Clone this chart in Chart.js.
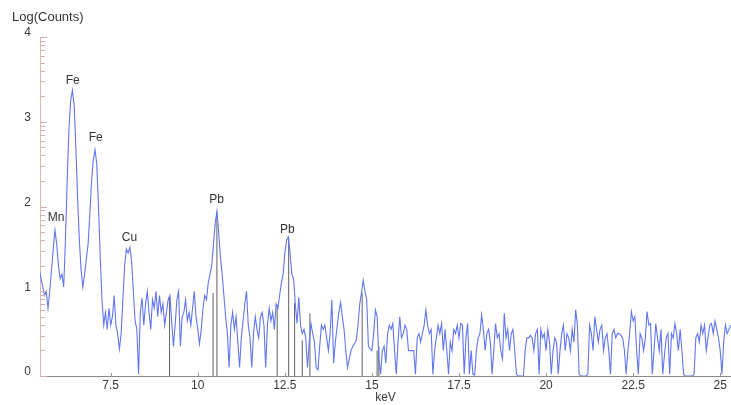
<!DOCTYPE html>
<html>
<head>
<meta charset="utf-8">
<script src="https://cdn.jsdelivr.net/npm/chart.js@4/dist/chart.umd.min.js"></script>
<style>
  html, body { margin: 0; padding: 0; background: #fff; }
  #spectrum { display: block; }
</style>
</head>
<body>
<canvas id="spectrum" width="731" height="405"></canvas>
<script>
// channel calibration of the spectrum
var channelStart = 5.45;
var channelStep = 0.05;

// log(counts) per channel, 10 channels (0.5 keV) per row
var logCounts = [
  1.25, 1.15, 1.05, 0.95, 1.0, 0.8, 1.0, 1.25, 1.5, 1.72,      // 5.45
  1.55, 1.3, 1.15, 1.2, 1.05, 1.6, 2.3, 2.9, 3.25, 3.37,       // 5.95
  3.2, 2.7, 2.1, 1.6, 1.25, 1.05, 1.2, 1.38, 1.55, 1.9,        // 6.45
  2.3, 2.55, 2.67, 2.5, 2.0, 1.4, 0.9, 0.6, 0.75, 0.55,        // 6.95
  0.8, 0.6, 0.7, 0.95, 0.6, 0.5, 0.32, 0.5, 0.9, 1.3,          // 7.45
  1.5, 1.45, 1.52, 1.35, 1.0, 0.65, 0.55, 0.02, 0.75, 0.92,    // 7.95
  0.6, 0.85, 1.0, 0.75, 0.55, 0.9, 0.8, 1.0, 0.7, 0.95,        // 8.45
  0.75, 0.85, 0.6, 0.75, 0.9, 0.95, 0.65, 0.35, 0.6, 0.9,      // 8.95
  1.0, 0.35, 0.7, 0.75, 0.9, 0.65, 0.75, 0.6, 0.8, 1.0,        // 9.45
  0.7, 0.55, 0.38, 0.55, 0.8, 0.95, 0.9, 1.1, 1.2, 1.3,        // 9.95
  1.55, 1.8, 1.94, 1.7, 1.4, 1.2, 0.95, 0.7, 0.5, 0.1,         // 10.45
  0.6, 0.75, 0.55, 0.7, 0.4, 0.1, 0.45, 0.65, 0.85, 1.0,       // 10.95
  0.6, 0.45, 0.1, 0.5, 0.7, 0.55, 0.45, 0.7, 0.75, 0.6,        // 11.45
  0.1, 0.6, 0.8, 0.65, 0.75, 0.55, 0.85, 0.8, 0.95, 1.1,       // 11.95
  1.2, 1.45, 1.6, 1.64, 1.45, 1.2, 1.15, 0.85, 0.62, 0.93,     // 12.45
  0.6, 0.5, 0.55, 0.45, 0.1, 0.4, 0.62, 0.5, 0.4, 0.1,         // 12.95
  0.07, 0.35, 0.6, 0.55, 0.6, 0.45, 0.3, 0.5, 0.9, 0.15,       // 13.45
  0.4, 0.58, 0.75, 0.87, 0.7, 0.55, 0.3, 0.1, 0.2, 0.3,        // 13.95
  0.35, 0.38, 0.42, 0.6, 0.85, 0.98, 1.13, 1.0, 0.9, 0.35,     // 14.45
  0.32, 0.3, 0.5, 0.78, 0.7, 0.2, 0.02, 0.3, 0.35, 0.15,       // 14.95
  0.5, 0.6, 0.55, 0.62, 0.3, 0.02, 0.4, 0.7, 0.45, 0.5,        // 15.45
  0.6, 0.55, 0.3, 0.3, 0.3, 0.3, 0.02, 0.45, 0.5, 0.4,         // 15.95
  0.5, 0.6, 0.78, 0.6, 0.5, 0.55, 0.02, 0.3, 0.45, 0.6,        // 16.45
  0.5, 0.62, 0.3, 0.55, 0.3, 0.02, 0.4, 0.3, 0.55, 0.5,        // 16.95
  0.6, 0.45, 0.62, 0.6, 0.02, 0.45, 0.62, 0.02, 0.3, 0.02,     // 17.45
  0.01, 0.3, 0.45, 0.5, 0.72, 0.55, 0.3, 0.5, 0.55, 0.4,       // 17.95
  0.02, 0.3, 0.62, 0.45, 0.5, 0.3, 0.2, 0.74, 0.45, 0.55,      // 18.45
  0.3, 0.5, 0.55, 0.3, 0.02, 0, 0, 0, 0, 0.3,                  // 18.95
  0.45, 0.45, 0.48, 0.45, 0.3, 0.5, 0.55, 0.02, 0.55, 0.45,    // 19.45
  0.5, 0.3, 0.55, 0.4, 0.02, 0.3, 0.45, 0.4, 0.02, 0.3,        // 19.95
  0.5, 0.6, 0.3, 0.5, 0.45, 0.3, 0.55, 0.4, 0.78, 0.6,         // 20.45
  0.02, 0, 0, 0, 0, 0.02, 0.6, 0.5, 0.3, 0.7,                  // 20.95
  0.55, 0.4, 0.55, 0.6, 0.3, 0.45, 0.5, 0.3, 0.02, 0.5,        // 21.45
  0.55, 0.45, 0.5, 0.5, 0.48, 0.45, 0.3, 0.02, 0.3, 0.5,       // 21.95
  0.76, 0.65, 0.7, 0.3, 0.02, 0.5, 0.45, 0.3, 0.45, 0.76,      // 22.45
  0.6, 0.62, 0.02, 0.3, 0.62, 0.45, 0.3, 0.55, 0.02, 0.25,     // 22.95
  0.45, 0.5, 0.02, 0.5, 0.45, 0.62, 0.5, 0.3, 0.55, 0.3,       // 23.45
  0.02, 0, 0, 0, 0, 0, 0.02, 0.45, 0.5, 0.4,                   // 23.95
  0.6, 0.5, 0.6, 0.3, 0.45, 0.6, 0.62, 0.5, 0.65, 0.55,        // 24.45
  0.45, 0.3, 0.02, 0.4, 0.6, 0.5, 0.55, 0.6                    // 24.95
];

// element line markers (keV, height in log counts)
var markerKeV = [9.19, 10.44, 10.55, 12.28, 12.61, 12.78, 13.0, 13.22, 14.72, 15.15, 15.2];
var markerTop = [0.93, 0.98, 1.94, 0.84, 1.64, 0.86, 0.42, 0.74, 0.98, 0.3, 0.35];

// peak labels
var peakNames = ['Mn', 'Fe', 'Fe', 'Cu', 'Pb', 'Pb'];
var peakKeV = [5.93, 6.41, 7.07, 8.04, 10.54, 12.57];
var peakLabelY = [1.87, 3.49, 2.81, 1.63, 2.08, 1.73];

var yTicks = [0, 1, 2, 3, 4];
var xTicks = [7.5, 10, 12.5, 15, 17.5, 20, 22.5, 25];

var FONT = '"Liberation Sans", Arial, sans-serif';

var spectrumPoints = [];
for (var i = 0; i < logCounts.length; i++) {
  spectrumPoints.push({x: +(channelStart + i * channelStep).toFixed(2), y: logCounts[i]});
}

var markerPoints = [];
for (var j = 0; j < markerKeV.length; j++) {
  markerPoints.push({x: markerKeV[j], y: 0});
  markerPoints.push({x: markerKeV[j], y: markerTop[j]});
  markerPoints.push({x: markerKeV[j], y: null});
}

var overlay = {
  id: 'overlay',
  afterDraw: function(chart) {
    var ctx = chart.ctx;
    var x = chart.scales.x, y = chart.scales.y;
    var left = chart.chartArea.left, bottom = chart.chartArea.bottom;
    ctx.save();
    // log style ticks on the y axis, inside the plot
    ctx.strokeStyle = '#cfb0b0';
    ctx.lineWidth = 1;
    ctx.beginPath();
    for (var d = 0; d < 4; d++) {
      for (var k = 1; k <= 9; k++) {
        var py = Math.round(y.getPixelForValue(d + Math.log10(k))) + 0.5;
        ctx.moveTo(left, py);
        ctx.lineTo(left + (k == 1 ? 7 : 5), py);
      }
    }
    var p4 = Math.round(y.getPixelForValue(4)) + 0.5;
    ctx.moveTo(left, p4);
    ctx.lineTo(left + 7, p4);
    ctx.stroke();
    // small ticks on the x axis
    ctx.strokeStyle = '#999';
    ctx.beginPath();
    xTicks.forEach(function(t) {
      var px = Math.round(x.getPixelForValue(t)) + 0.5;
      ctx.moveTo(px, bottom);
      ctx.lineTo(px, bottom - 3);
    });
    ctx.stroke();
    // peak labels
    ctx.fillStyle = '#333';
    ctx.font = '12px ' + FONT;
    ctx.textAlign = 'center';
    ctx.textBaseline = 'middle';
    for (var n = 0; n < peakNames.length; n++) {
      ctx.fillText(peakNames[n], x.getPixelForValue(peakKeV[n]), y.getPixelForValue(peakLabelY[n]));
    }
    // axis name on top
    ctx.textAlign = 'left';
    ctx.font = '13px ' + FONT;
    ctx.fillText('Log(Counts)', 12, 17);
    ctx.restore();
  }
};

var ctx = document.getElementById('spectrum').getContext('2d');
var chart = new Chart(ctx, {
  type: 'line',
  data: {
    datasets: [
      {
        label: 'Spectrum',
        data: spectrumPoints,
        borderColor: '#6276f0',
        borderWidth: 1.1,
        pointRadius: 0,
        tension: 0,
        fill: false
      },
      {
        label: 'Lines',
        data: markerPoints,
        borderColor: '#5e5e5e',
        borderWidth: 1,
        pointRadius: 0,
        spanGaps: false,
        fill: false
      }
    ]
  },
  options: {
    responsive: false,
    devicePixelRatio: 1,
    animation: false,
    layout: { padding: { top: 37, left: 0, right: 0, bottom: 0 } },
    plugins: {
      legend: { display: false },
      tooltip: { enabled: false }
    },
    scales: {
      x: {
        type: 'linear',
        min: 5.47,
        max: 25.31,
        afterFit: function(scale) { scale.height = 29; },
        afterBuildTicks: function(scale) {
          scale.ticks = xTicks.map(function(v) { return {value: v}; });
        },
        grid: { display: false, drawTicks: false },
        border: { display: true, color: '#8a8a8a', width: 1 },
        ticks: {
          color: '#3a3a3a',
          font: { family: FONT, size: 12 },
          padding: 2,
          maxRotation: 0,
          autoSkip: false
        },
        title: {
          display: true,
          text: 'keV',
          color: '#3a3a3a',
          font: { family: FONT, size: 12 },
          padding: { top: 0, bottom: 0 }
        }
      },
      y: {
        min: 0,
        max: 4,
        afterFit: function(scale) { scale.width = 40; },
        afterBuildTicks: function(scale) {
          scale.ticks = yTicks.map(function(v) { return {value: v}; });
        },
        grid: { display: false, drawTicks: false },
        border: { display: true, color: '#e0b4b4', width: 1 },
        ticks: {
          color: '#3a3a3a',
          font: { family: FONT, size: 12 },
          padding: 9,
          labelOffset: -4
        }
      }
    }
  },
  plugins: [overlay]
});
</script>
</body>
</html>
